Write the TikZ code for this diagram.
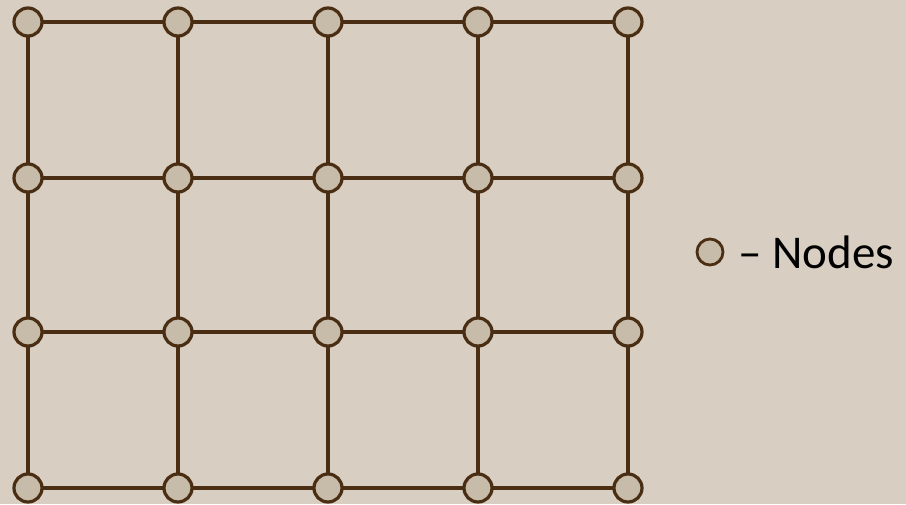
\documentclass[tikz,border=0pt]{standalone}
\usepackage{fontspec}
\setmainfont{Carlito}
\definecolor{bg}{HTML}{D8CFC2}
\definecolor{edge}{HTML}{4A2E14}
\definecolor{nfill}{HTML}{C7BBA9}
\begin{document}
\begin{tikzpicture}[x=1pt,y=-1pt,
  gridnode/.style={circle,draw=edge,fill=nfill,line width=3.2pt,minimum size=28pt,inner sep=0pt},
  gridedge/.style={draw=edge,line width=3.6pt}]
\fill[bg] (0,0) rectangle (906,504);
\useasboundingbox (0,0) rectangle (906,504);
\foreach \i/\x in {1/28,2/178,3/328,4/478,5/628}{
  \foreach \j/\y in {1/22,2/178,3/332,4/488}{
    \coordinate (p\i\j) at (\x,\y);
  }
}
\foreach \j in {1,2,3,4}{
  \path[gridedge] (p1\j) -- (p5\j);
}
\foreach \i in {1,2,3,4,5}{
  \path[gridedge] (p\i1) -- (p\i4);
}
\foreach \i in {1,2,3,4,5}{
  \foreach \j in {1,2,3,4}{
    \node[gridnode] (n\i\j) at (p\i\j) {};
  }
}
\node[gridnode,minimum size=26pt,line width=2.8pt] (leg) at (710,252) {};
\node[anchor=west,inner sep=0pt,font=\fontsize{47}{50}\selectfont] (legtext) at (738,252) {– Nodes};
\end{tikzpicture}
\end{document}
